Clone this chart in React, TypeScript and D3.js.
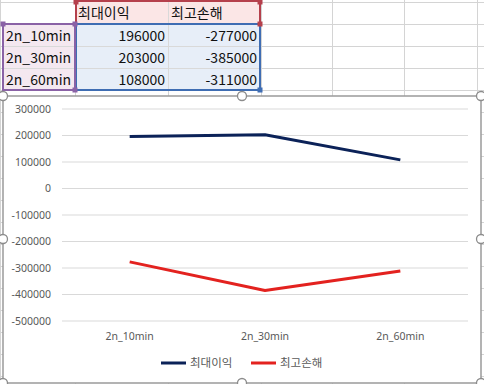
import React from "react";
import * as d3 from "d3";

const categories = ["2n_10min", "2n_30min", "2n_60min"];
const seriesNames = ["최대이익", "최고손해"];
const maxProfit = [196000, 203000, 108000];
const maxLoss = [-277000, -385000, -311000];
const yTicks = [300000, 200000, 100000, 0, -100000, -200000, -300000, -400000, -500000];

const seriesColors = ["#0b2258", "#e3221f"];

const W = 484;
const H = 384;

const colEdges = [0, 75, 168, 261, 332, 404, 477];
const rowEdges = d3.range(0, 400, 22).map((v) => v + 2);

export default function App() {
  const plotLeft = 62;
  const plotRight = 468;
  const x = d3.scaleBand<string>().domain(categories).range([plotLeft, plotRight]);
  const y = d3.scaleLinear().domain([-500000, 300000]).range([321, 109]);
  const cx = (c: string) => (x(c) as number) + x.bandwidth() / 2;
  const line = d3
    .line<number>()
    .x((_, i) => cx(categories[i]))
    .y((d) => y(d));
  const series = [maxProfit, maxLoss];

  const cellFont = "'Noto Sans CJK KR', 'Noto Sans', sans-serif";
  const rowY = [2, 24, 46, 68, 90];

  const handle = (hx: number, hy: number, k: string) => (
    <circle key={k} cx={hx} cy={hy} r={4.5} fill="#fff" stroke="#8c8c8c" strokeWidth={1.3} />
  );
  const square = (sx: number, sy: number, color: string, k: string) => (
    <rect key={k} x={sx - 2.5} y={sy - 2.5} width={5} height={5} fill={color} />
  );

  const red = "#b5404c";
  const purple = "#8a62a6";
  const blue = "#3f6db3";

  return (
    <svg
      width={W}
      height={H}
      style={{ position: "absolute", left: 0, top: 0, background: "#fff" }}
      fontFamily={cellFont}
    >
      {/* spreadsheet grid */}
      {colEdges.map((c, i) => (
        <line key={"c" + i} x1={c + 0.5} x2={c + 0.5} y1={0} y2={H} stroke="#d4d4d4" />
      ))}
      {rowEdges.map((r, i) => (
        <line key={"r" + i} x1={0} x2={W} y1={r + 0.5} y2={r + 0.5} stroke="#d4d4d4" />
      ))}
      {/* fills */}
      <rect x={75} y={1} width={186} height={23} fill="#fbe6e6" />
      <rect x={3} y={24} width={72} height={66} fill="#f4e8f0" />
      <rect x={75} y={24} width={186} height={66} fill="#e7eef8" />
      <line x1={168.5} x2={168.5} y1={1} y2={90} stroke="#d9d9d9" />
      {[46, 68].map((r) => (
        <line key={"ir" + r} x1={3} x2={261} y1={r + 0.5} y2={r + 0.5} stroke="#d9d9d9" />
      ))}
      {/* range borders */}
      <rect x={76} y={1} width={184} height={23} fill="none" stroke={red} strokeWidth={2} />
      <rect x={76} y={24} width={184} height={66} fill="none" stroke={blue} strokeWidth={2} />
      <rect x={3} y={24} width={72} height={66} fill="none" stroke={purple} strokeWidth={2} />
      {square(76, 2, red, "s1")}
      {square(260, 2, red, "s2")}
      {square(260, 24, red, "s3")}
      {square(3, 24, purple, "s4")}
      {square(75, 24, purple, "s5")}
      {square(75, 90, purple, "s6")}
      {square(260, 90, blue, "s7")}
      {/* cell text */}
      {seriesNames.map((n, i) => (
        <text key={"h" + i} x={colEdges[i + 1] + 3} y={18} fontSize={14} fill="#111">
          {n}
        </text>
      ))}
      {categories.map((c, i) => (
        <g key={"row" + i}>
          <text x={6} y={rowY[i + 1] + 17} fontSize={14} fill="#111">
            {c}
          </text>
          <text x={165} y={rowY[i + 1] + 17} fontSize={14} fill="#111" textAnchor="end">
            {maxProfit[i]}
          </text>
          <text x={257} y={rowY[i + 1] + 17} fontSize={14} fill="#111" textAnchor="end">
            {maxLoss[i]}
          </text>
        </g>
      ))}

      {/* chart */}
      <rect x={3} y={96} width={478} height={287} fill="#fff" stroke="#9a9a9a" strokeWidth={1.5} />
      {yTicks.map((t) => (
        <g key={"t" + t}>
          <line x1={plotLeft} x2={plotRight} y1={y(t)} y2={y(t)} stroke="#d9d9d9" strokeWidth={1} />
          <text
            x={51}
            y={y(t)}
            dy="0.35em"
            textAnchor="end"
            fontSize={10.5}
            fill="#595959"
            fontFamily="'Noto Sans', sans-serif"
          >
            {t}
          </text>
        </g>
      ))}
      {categories.map((c) => (
        <text
          key={"x" + c}
          x={cx(c)}
          y={336}
          dy="0.35em"
          textAnchor="middle"
          fontSize={10.5}
          fill="#595959"
          fontFamily="'Noto Sans', sans-serif"
        >
          {c}
        </text>
      ))}
      {series.map((s, i) => (
        <path key={"p" + i} d={line(s) || ""} fill="none" stroke={seriesColors[i]} strokeWidth={3} strokeLinejoin="round" />
      ))}
      {/* legend */}
      {seriesNames.map((n, i) => {
        const lx = 161 + i * 90;
        return (
          <g key={"l" + i}>
            <line x1={lx} x2={lx + 25} y1={363} y2={363} stroke={seriesColors[i]} strokeWidth={3} />
            <text x={lx + 29} y={363} dy="0.35em" fontSize={11.5} fill="#595959">
              {n}
            </text>
          </g>
        );
      })}
      {handle(3, 96, "h1")}
      {handle(242, 96, "h2")}
      {handle(481, 96, "h3")}
      {handle(3, 239, "h4")}
      {handle(481, 239, "h5")}
      {handle(3, 383, "h6")}
      {handle(242, 383, "h7")}
      {handle(481, 383, "h8")}
    </svg>
  );
}
